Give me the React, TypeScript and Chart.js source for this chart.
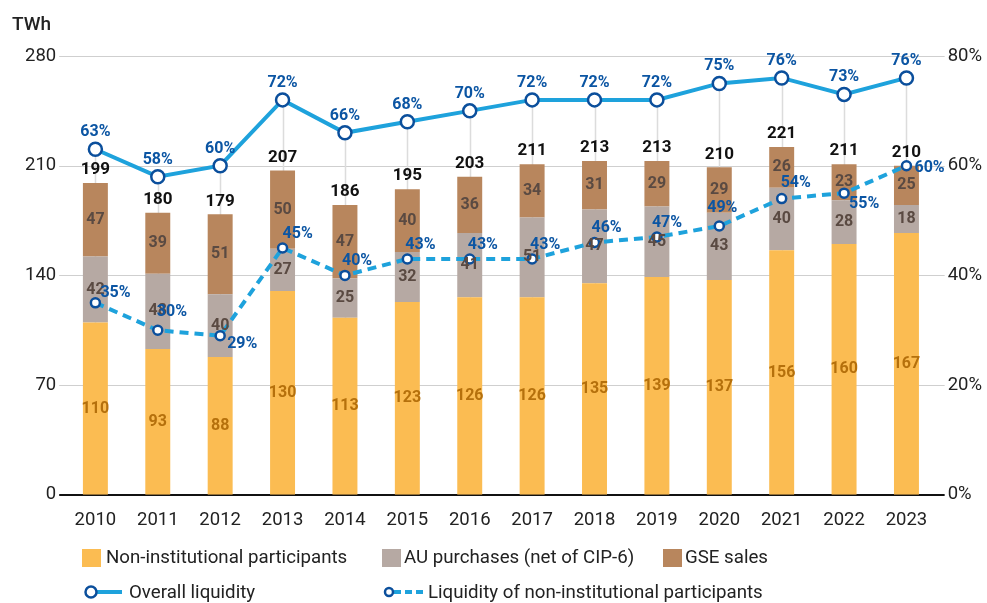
import React, { useEffect, useRef } from "react";
import { Chart, registerables } from "chart.js";

Chart.register(...registerables);

const years = ["2010","2011","2012","2013","2014","2015","2016","2017","2018","2019","2020","2021","2022","2023"];
const nonInstitutional = [110,93,88,130,113,123,126,126,135,139,137,156,160,167];
const auPurchases = [42,48,40,27,25,32,41,51,47,45,43,40,28,18];
const gseSales = [47,39,51,50,47,40,36,34,31,29,29,26,23,25];
const totals = [199,180,179,207,186,195,203,211,213,213,210,221,211,210];
const overallLiquidity = [63,58,60,72,66,68,70,72,72,72,75,76,73,76];
const nonInstLiquidity = [35,30,29,45,40,43,43,43,46,47,49,54,55,60];

const FONT = "Roboto, 'Noto Sans', sans-serif";
const YELLOW = "#fbbc52";
const GREY = "#b6a9a3";
const BROWN = "#b8865d";
const LIGHTBLUE = "#1ea2dc";
const DARKBLUE = "#0b4f9c";

// label offsets for the dashed series (dx from point, dy from point, align)
const dashedLabelPlacement: [number, number, CanvasTextAlign][] = [
  [5, -10, "left"], [-1, -18, "left"], [7, 8, "left"], [0, -14, "left"],
  [-3, -14, "left"], [-2, -14, "left"], [-2, -14, "left"], [-2, -14, "left"],
  [-3, -14, "left"], [-5, -14, "left"], [3, -18, "center"], [-1, -16, "left"],
  [5, 11, "left"], [8, 2, "left"],
];

const gridPlugin = {
  id: "gridAndDrops",
  beforeDatasetsDraw(chart: any) {
    const ctx = chart.ctx;
    const { left, right, bottom } = chart.chartArea;
    const yScale = chart.scales.y;
    ctx.save();
    yScale.ticks.forEach((t: any) => {
      const y = Math.round(yScale.getPixelForValue(t.value));
      ctx.beginPath();
      if (t.value === 0) {
        ctx.strokeStyle = "#111";
        ctx.lineWidth = 2;
        ctx.moveTo(left - 5, y);
        ctx.lineTo(right + 7, y);
      } else {
        ctx.strokeStyle = "#cfcfcf";
        ctx.lineWidth = 1.2;
        ctx.moveTo(left - 5, y + 0.5);
        ctx.lineTo(right + 7, y + 0.5);
      }
      ctx.stroke();
    });
    const meta = chart.getDatasetMeta(3);
    ctx.strokeStyle = "#dcdcdc";
    ctx.lineWidth = 1.5;
    meta.data.forEach((pt: any) => {
      ctx.beginPath();
      ctx.moveTo(Math.round(pt.x) + 0.5, pt.y);
      ctx.lineTo(Math.round(pt.x) + 0.5, bottom - 2);
      ctx.stroke();
    });
    ctx.restore();
  },
};

const labelsPlugin = {
  id: "valueLabels",
  afterDatasetsDraw(chart: any) {
    const ctx = chart.ctx;
    ctx.save();
    ctx.textBaseline = "middle";
    [0, 1, 2].forEach((di) => {
      const meta = chart.getDatasetMeta(di);
      const vals = chart.data.datasets[di].data;
      meta.data.forEach((bar: any, i: number) => {
        const y = (bar.y + bar.base) / 2;
        ctx.font = `bold 16px ${FONT}`;
        ctx.textAlign = "center";
        ctx.fillStyle = di === 0 ? "#b5700c" : "#5a4a42";
        ctx.fillText(String(vals[i]), bar.x, y);
      });
    });
    const top = chart.getDatasetMeta(2);
    top.data.forEach((bar: any, i: number) => {
      ctx.font = `bold 17px ${FONT}`;
      ctx.textAlign = "center";
      ctx.fillStyle = "#111";
      ctx.fillText(String(totals[i]), bar.x, bar.y - 13);
    });
    const m3 = chart.getDatasetMeta(3);
    m3.data.forEach((pt: any, i: number) => {
      ctx.font = `bold 16px ${FONT}`;
      ctx.textAlign = "center";
      ctx.fillStyle = "#0b55a3";
      ctx.fillText(overallLiquidity[i] + "%", pt.x, pt.y - 17);
    });
    const m4 = chart.getDatasetMeta(4);
    m4.data.forEach((pt: any, i: number) => {
      const [dx, dy, al] = dashedLabelPlacement[i];
      ctx.font = `bold 16px ${FONT}`;
      ctx.textAlign = al;
      ctx.fillStyle = "#0b55a3";
      ctx.fillText(nonInstLiquidity[i] + "%", pt.x + dx, pt.y + dy);
    });
    ctx.restore();
  },
};

export default function App() {
  const ref = useRef<HTMLCanvasElement>(null);
  useEffect(() => {
    document.body.style.margin = "0";
    const chart = new Chart(ref.current!, {
      type: "bar",
      data: {
        labels: years,
        datasets: [
          { type: "bar", label: "Non-institutional participants", data: nonInstitutional, backgroundColor: YELLOW, yAxisID: "y", stack: "s", order: 2, barPercentage: 0.4, categoryPercentage: 1 },
          { type: "bar", label: "AU purchases (net of CIP-6)", data: auPurchases, backgroundColor: GREY, yAxisID: "y", stack: "s", order: 2, barPercentage: 0.4, categoryPercentage: 1 },
          { type: "bar", label: "GSE sales", data: gseSales, backgroundColor: BROWN, yAxisID: "y", stack: "s", order: 2, barPercentage: 0.4, categoryPercentage: 1 },
          { type: "line", label: "Overall liquidity", data: overallLiquidity, yAxisID: "y2", borderColor: LIGHTBLUE, borderWidth: 4, pointRadius: 6.5, pointBorderWidth: 2.5, pointBackgroundColor: "#fff", pointBorderColor: DARKBLUE, order: 0 },
          { type: "line", label: "Liquidity of non-institutional participants", data: nonInstLiquidity, yAxisID: "y2", borderColor: LIGHTBLUE, borderWidth: 4, borderDash: [9, 6], pointRadius: 4.5, pointBorderWidth: 2.5, pointBackgroundColor: "#fff", pointBorderColor: DARKBLUE, order: 1 },
        ] as any,
      },
      options: {
        animation: false,
        responsive: false,
        maintainAspectRatio: false,
        layout: { padding: { top: 56, bottom: 66, left: 17, right: -5 } },
        plugins: { legend: { display: false }, tooltip: { enabled: false } },
        scales: {
          x: {
            stacked: true,
            grid: { display: false },
            border: { display: false },
            ticks: { color: "#222", font: { family: FONT, size: 18.5 }, padding: 6 },
          },
          y: {
            stacked: true,
            min: 0, max: 280,
            ticks: { stepSize: 70, color: "#222", font: { family: FONT, size: 18.5 }, padding: 8 },
            grid: { display: false, drawTicks: false },
            border: { display: false },
          },
          y2: {
            position: "right",
            min: 0, max: 80,
            ticks: { stepSize: 20, color: "#222", font: { family: FONT, size: 18.5 }, padding: 10, callback: (v: any) => v + "%" },
            grid: { display: false, drawTicks: false },
            border: { display: false },
          },
        },
      },
      plugins: [gridPlugin, labelsPlugin],
    });
    return () => chart.destroy();
  }, []);

  const txt: React.CSSProperties = { position: "absolute", fontFamily: FONT, fontSize: 18.7, color: "#222", whiteSpace: "nowrap", lineHeight: "20px" };
  const box = (left: number, top: number, color: string): React.CSSProperties => ({ position: "absolute", left, top, width: 19, height: 18, background: color });

  return (
    <div style={{ position: "relative", width: 987, height: 603, background: "#fff" }}>
      <canvas ref={ref} width={987} height={603} style={{ position: "absolute", left: 0, top: 0 }} />
      <div style={{ ...txt, left: 12, top: 14, fontSize: 19, fontWeight: 500 }}>TWh</div>
      <div style={box(82, 549, YELLOW)} />
      <div style={{ ...txt, left: 106, top: 547 }}>Non-institutional participants</div>
      <div style={box(382, 549, GREY)} />
      <div style={{ ...txt, left: 404, top: 547 }}>AU purchases (net of CIP-6)</div>
      <div style={box(663, 549, BROWN)} />
      <div style={{ ...txt, left: 685, top: 547 }}>GSE sales</div>
      <svg style={{ position: "absolute", left: 80, top: 582 }} width={45} height={20}>
        <line x1={12} y1={10} x2={42} y2={10} stroke={LIGHTBLUE} strokeWidth={4} />
        <circle cx={11} cy={10} r={5.5} fill="#fff" stroke={DARKBLUE} strokeWidth={2.5} />
      </svg>
      <div style={{ ...txt, left: 129, top: 582 }}>Overall liquidity</div>
      <svg style={{ position: "absolute", left: 380, top: 582 }} width={45} height={20}>
        <line x1={14} y1={10} x2={43} y2={10} stroke={LIGHTBLUE} strokeWidth={4} strokeDasharray="7 4" />
        <circle cx={9} cy={10} r={4} fill="#fff" stroke={DARKBLUE} strokeWidth={2.5} />
      </svg>
      <div style={{ ...txt, left: 428, top: 582 }}>Liquidity of non-institutional participants</div>
    </div>
  );
}
